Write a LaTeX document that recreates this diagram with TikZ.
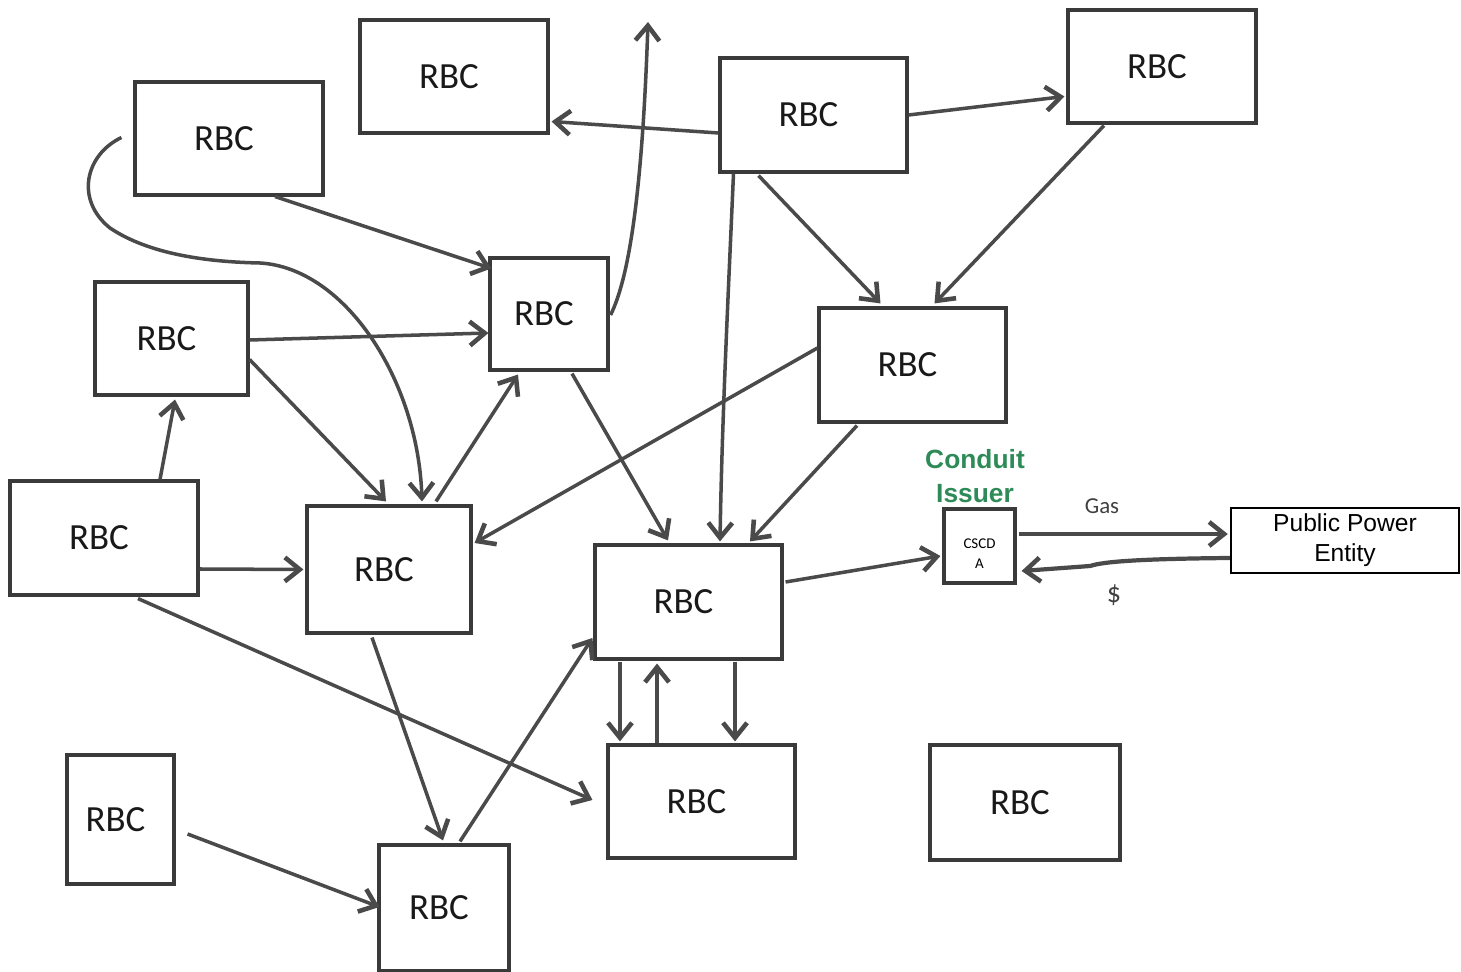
\documentclass[tikz,border=0pt]{standalone}
\usepackage{fontspec}
\setmainfont{Carlito}
\newfontfamily\arialf{Liberation Sans}
\usetikzlibrary{arrows.meta,calc}
\definecolor{linec}{HTML}{4A4A4A}
\definecolor{boxc}{HTML}{3A3A3A}
\definecolor{condgreen}{HTML}{2E8B57}
\newcommand{\rbctxt}{\kern-0.2cm RBC}
\tikzset{
  rbc/.style={draw=boxc, line width=1.8pt, fill=white, inner sep=0pt,
    font=\fontsize{21}{25}\selectfont, text=black!90},
  arr/.style={draw=linec, line width=2pt,
    -{Straight Barb[length=3mm,width=4.8mm,line width=2.6pt]}},
  lab/.style={inner sep=0pt, text=black!75, font=\fontsize{13}{15}\selectfont}
}
\begin{document}
\begin{tikzpicture}[x=0.02cm,y=-0.02cm]
\useasboundingbox (0,0) rectangle (1461,972);
% boxes
\node[rbc, minimum width=3.76cm, minimum height=2.26cm] (A) at (454,76.5) {\rbctxt};
\node[rbc, minimum width=3.74cm, minimum height=2.28cm] (B) at (813.5,115) {\rbctxt};
\node[rbc, minimum width=3.76cm, minimum height=2.26cm] (C) at (1162,66.5) {\rbctxt};
\node[rbc, minimum width=3.76cm, minimum height=2.26cm] (D) at (229,138.5) {\rbctxt};
\node[rbc, minimum width=2.36cm, minimum height=2.24cm] (E) at (549,314) {\rbctxt};
\node[rbc, minimum width=3.06cm, minimum height=2.26cm] (F) at (171.5,338.5) {\rbctxt};
\node[rbc, minimum width=3.74cm, minimum height=2.28cm] (G) at (912.5,365) {\rbctxt};
\node[rbc, minimum width=3.76cm, minimum height=2.28cm] (H) at (104,538) {\rbctxt};
\node[rbc, minimum width=3.28cm, minimum height=2.54cm] (I) at (389,569.5) {\rbctxt};
\node[rbc, minimum width=3.74cm, minimum height=2.28cm] (J) at (688.5,602) {\rbctxt};
\node[rbc, minimum width=1.42cm, minimum height=1.48cm,
  label={[yshift=-0.15cm, align=center, inner sep=0pt,
    font=\fontsize{8.5}{11.5}\selectfont]center:CSCD\\A}] (K) at (979.5,546) {};
\node[draw=black, line width=1.4pt, fill=white, inner sep=0pt,
  minimum width=4.56cm, minimum height=1.30cm, align=center,
  font=\arialf\fontsize{14}{17}\selectfont] (L) at (1345,540.5) {Public Power\\Entity};
\node[rbc, minimum width=3.74cm, minimum height=2.26cm] (M) at (701.5,801.5) {\rbctxt};
\node[rbc, minimum width=3.80cm, minimum height=2.30cm] (N) at (1025,802.5) {\rbctxt};
\node[rbc, minimum width=2.14cm, minimum height=2.58cm] (O) at (120.5,819.5) {\rbctxt};
\node[rbc, minimum width=2.60cm, minimum height=2.52cm] (P) at (444,908) {\rbctxt};
% labels
\node[align=center, inner sep=0pt, text=condgreen,
  font=\arialf\bfseries\fontsize{15}{19}\selectfont] (cond) at (975,476) {Conduit\\Issuer};
\node[lab] (gas) at (1102,506) {Gas};
\node[lab, font=\fontsize{16}{18}\selectfont] (dol) at (1114,595) {\$};
% connectors
\draw[arr] ($(B.west)+(0,18)$) -- ($(A.east)+(2,45)$);
\draw[arr] (B.east) -- ($(C.west)+(-2,30)$);
\draw[arr] ($(B.south)+(-55,2)$) -- ($(G.north)+(-32,-3)$);
\draw[arr] ($(C.south)+(-58,1)$) -- ($(G.north)+(22,-3)$);
\draw[arr] ($(B.south)+(-80,0)$) .. controls (728,300) and (722,420) .. ($(J.north)+(31.5,-2)$);
\coordinate (up) at (648,22);
\draw[arr] ($(E.east)+(1,1)$) .. controls (628,280) and (642,200) .. (up);
\draw[arr] ($(D.south)+(46,0)$) -- ($(E.north west)+(3,12)$);
\coordinate (d0) at ($(D.west)+(-12,-1)$);
\coordinate (i0) at ($(I.north)+(33,-3)$);
\draw[arr] (d0) .. controls (85,155) and (75,200) .. (110,228)
  .. controls (150,255) and (210,262) .. (260,263)
  .. controls (345,268) and (418,380) .. (i0);
\draw[arr] ($(F.east)+(0,1.5)$) -- ($(E.west)+(0,19)$);
\draw[arr] ($(F.east)+(0,21)$) -- ($(I.north)+(-3,-3)$);
\draw[arr] ($(H.north)+(56,0)$) -- ($(F.south)+(3.5,3)$);
\draw[arr] ($(H.east)+(0,31)$) -- ($(I.west)+(-2,0)$);
\draw[arr] ($(H.south)+(34,2)$) -- ($(M.west)+(-14,-1.5)$);
\draw[arr] ($(I.north)+(47,-3)$) -- ($(E.south)+(-31,3)$);
\draw[arr] ($(E.south)+(23,2)$) -- ($(J.north)+(-20.5,-3)$);
\draw[arr] ($(G.west)+(0,-17)$) -- ($(I.east)+(2,-26.5)$);
\draw[arr] ($(G.south)+(-55.5,2)$) -- ($(J.north)+(61.5,-2)$);
\draw[arr] ($(I.south)+(-17,3)$) -- ($(P.north)+(-1,-3)$);
\draw[arr] ($(P.north)+(16,-2)$) -- ($(J.west)+(-1,36)$);
\draw[arr] ($(O.east)+(12,14.5)$) -- ($(P.west)+(2,-1)$);
\draw[arr] ($(J.south)+(-68.5,1)$) -- ($(M.north)+(-81.5,-2)$);
\draw[arr] ($(M.north)+(-44.5,0)$) -- ($(J.south)+(-31.5,3)$);
\draw[arr] ($(J.south)+(46.5,1)$) -- ($(M.north)+(33.5,-2)$);
\draw[arr] ($(J.east)+(2,-20)$) -- ($(K.west)+(-2,10)$);
\draw[arr, line width=2.4pt] ($(K.east)+(2,-12)$) -- ($(L.west)+(-2,-6.5)$);
\draw[arr, line width=2.4pt] ($(L.west)+(0,17.5)$) .. controls (1120,559) and (1100,563) .. (1090,566) -- ($(K.east)+(5,25)$);
\end{tikzpicture}
\end{document}
